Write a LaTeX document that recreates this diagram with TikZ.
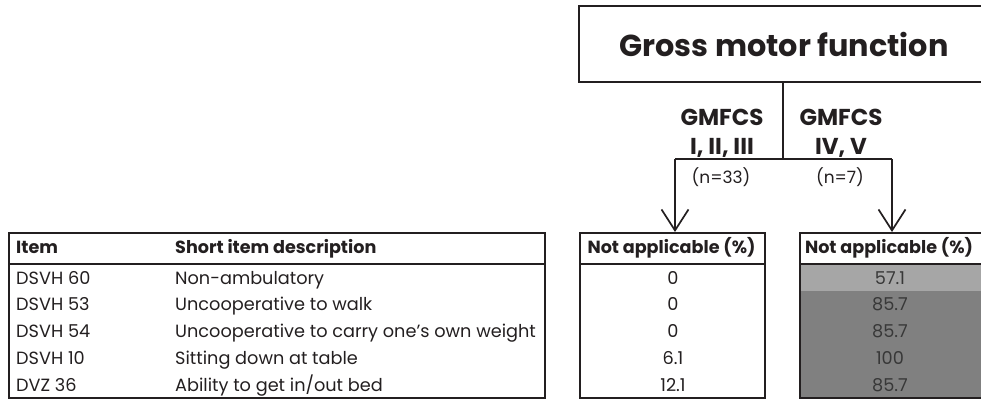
\documentclass[tikz,border=0pt]{standalone}
\usepackage{fontspec}
\setmainfont{Poppins}
\usetikzlibrary{arrows.meta}
\definecolor{ink}{HTML}{231F20}
\definecolor{greytext}{HTML}{383838}
\definecolor{lightrow}{HTML}{A6A6A6}
\definecolor{darkrow}{HTML}{808080}
\tikzset{
  frame/.style={draw=ink, line width=2pt, inner sep=0pt},
  link/.style={draw=ink, line width=1.7pt},
  branch/.style={link, -{Straight Barb[length=21pt,width=27pt,line width=1.7pt]}},
  titletext/.style={font=\fontsize{30.3}{36}\selectfont\bfseries, text=ink},
  grouptext/.style={font=\fontsize{23}{29}\selectfont\bfseries, text=ink, align=center, inner sep=0pt, anchor=base},
  counttext/.style={font=\fontsize{17}{20}\selectfont, text=ink, inner sep=0pt, anchor=base},
  headtext/.style={font=\fontsize{17.6}{20}\selectfont\bfseries, text=ink, inner sep=0pt, anchor=base},
  celltext/.style={font=\fontsize{17.7}{20}\selectfont, text=ink, inner sep=0pt},
  greycell/.style={celltext, text=greytext},
}
\begin{document}
\begin{tikzpicture}[x=1pt,y=-1pt]
\useasboundingbox (0,0) rectangle (981,399);
\clip (0,0) rectangle (981,399);

% root box
\node[frame, titletext, minimum width=410pt, minimum height=76pt] (gmf) at (784,44) {Gross motor function};

% group labels (anchored at the baseline of the second line)
\node[grouptext] (gA) at (722,154.5) {GMFCS\\I, II, III};
\node[counttext] (nA) at (721,183) {(n=33)};
\node[grouptext] (gB) at (841,154.5) {GMFCS\\IV, V};
\node[counttext] (nB) at (840,183) {(n=7)};

% item table
\node[frame, anchor=north west, minimum width=536pt, minimum height=165pt] (items) at (8,232) {};
\coordinate (itemsHL) at (8,264);
\coordinate (itemsHR) at (544,264);
\draw[ink, line width=2pt] (itemsHL) -- (itemsHR);
\node[headtext, anchor=base west] (hItem) at (16,253) {Item};
\node[headtext, anchor=base west] (hDesc) at (175,253) {Short item description};

% result table, GMFCS I-III
\node[frame, anchor=north west, minimum width=185pt, minimum height=165pt] (ltab) at (579,232) {};
\coordinate (ltabHL) at (579,264);
\coordinate (ltabHR) at (764,264);
\draw[ink, line width=2pt] (ltabHL) -- (ltabHR);
\node[headtext] (lhead) at (671.5,253) {Not applicable (\%)};

% result table, GMFCS IV-V
\fill[lightrow] (799,264) rectangle (984,291);
\fill[darkrow] (799,291) rectangle (984,397);
\node[frame, anchor=north west, minimum width=185pt, minimum height=165pt] (rtab) at (799,232) {};
\coordinate (rtabHL) at (799,264);
\coordinate (rtabHR) at (984,264);
\draw[ink, line width=2pt] (rtabHL) -- (rtabHR);
\node[headtext] (rhead) at (889,253) {Not applicable (\%)};

% rows
\foreach \code/\desc/\pa/\pb [count=\i from 0] in {
  DSVH 60/Non-ambulatory/0/57.1,
  DSVH 53/Uncooperative to walk/0/85.7,
  DSVH 54/Uncooperative to carry one’s own weight/0/85.7,
  DSVH 10/Sitting down at table/6.1/100,
  DVZ 36/{Ability to get in/out bed}/12.1/85.7} {
  \pgfmathsetmacro{\yb}{284+26.9*\i}
  \node[celltext, anchor=base west] (code\i) at (16,\yb) {\code};
  \node[celltext, anchor=base west] (desc\i) at (175,\yb) {\desc};
  \node[celltext, anchor=base] (pa\i) at (673,\yb) {\pa};
  \node[greycell, anchor=base] (pb\i) at (890,\yb) {\pb};
}

% split connector
\coordinate (jn) at (783,159);
\coordinate (jl) at (675,159);
\coordinate (jr) at (892,159);
\draw[link] (gmf.south -| jn) -- (jn);
\draw[link] (jl) -- (jr);
\draw[branch] (jl) -- (jl |- ltab.north);
\draw[branch] (jr) -- (jr |- rtab.north);
\end{tikzpicture}
\end{document}
